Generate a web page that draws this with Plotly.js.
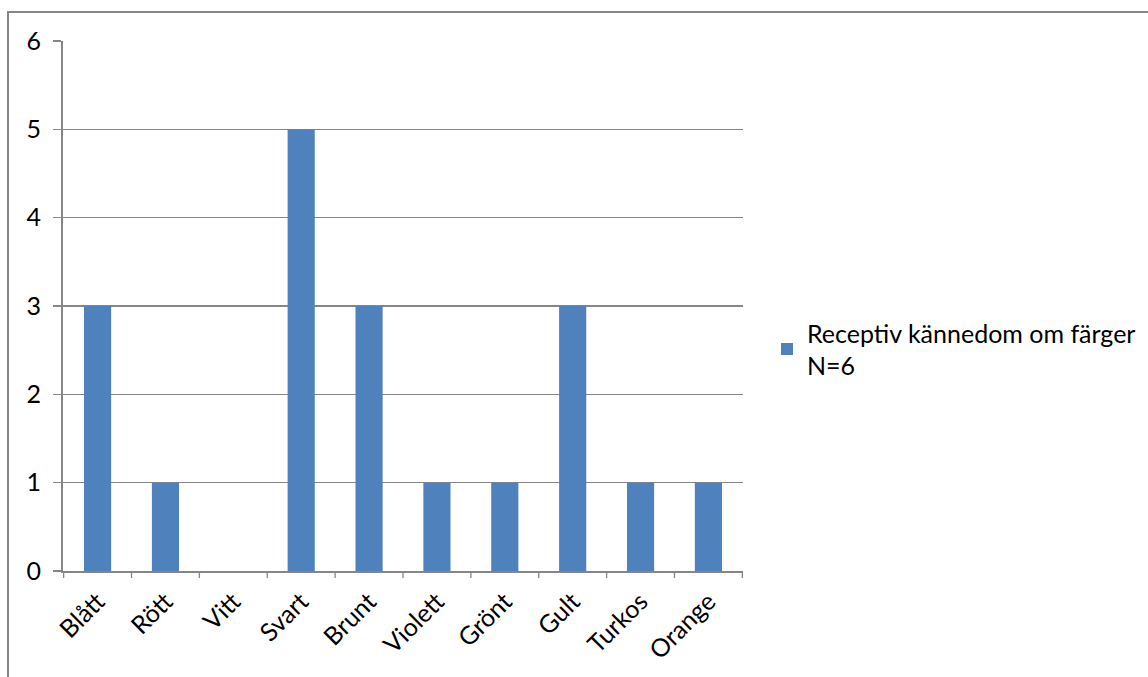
<!DOCTYPE html>
<html>
<head>
<meta charset="utf-8">
<script src="https://cdn.plot.ly/plotly-3.0.1.min.js"></script>
<style>html,body{margin:0;padding:0;background:#fff;}#chart{width:1148px;height:677px;}</style>
</head>
<body>
<div id="chart"></div>
<script>
const categories = ["Blått", "Rött", "Vitt", "Svart", "Brunt", "Violett", "Grönt", "Gult", "Turkos", "Orange"];
const values = [3, 1, 0, 5, 3, 1, 1, 3, 1, 1];
const seriesName = "Receptiv kännedom om färger<br>N=6";
const yTicks = [0, 1, 2, 3, 4, 5, 6];

const L = 63, R = 743, T = 41, B = 571, W = 1148, H = 677;
const pw = R - L, ph = B - T;
const px = v => (v - L) / pw;
const py = v => (B - v) / ph;

const font = "Lato, 'Open Sans', sans-serif";
const fs = 25;

Plotly.newPlot("chart", [{
  type: "bar",
  x: categories,
  y: values,
  name: seriesName,
  marker: {color: "#4F81BD"},
  showlegend: true,
  hoverinfo: "x+y"
}], {
  width: W, height: H,
  margin: {l: L, r: W - R, t: T, b: H - B, pad: 0, autoexpand: false},
  paper_bgcolor: "#fff",
  plot_bgcolor: "#fff",
  bargap: 0.6,
  font: {family: font, size: fs, color: "#000"},
  xaxis: {
    type: "category",
    tickangle: -45,
    showgrid: false,
    showline: true,
    linecolor: "#868686",
    linewidth: 2,
    ticks: "",
    ticklabelstandoff: 4,
    tickfont: {family: font, size: fs, color: "#000"},
    zeroline: false,
    fixedrange: true
  },
  yaxis: {
    range: [0, 6],
    tickvals: yTicks,
    ticktext: yTicks.map(String),
    showgrid: true,
    gridcolor: "#868686",
    gridwidth: 1.3,
    showline: true,
    linecolor: "#868686",
    linewidth: 2,
    ticks: "outside",
    ticklen: 8,
    tickcolor: "#868686",
    tickwidth: 1.3,
    ticklabelstandoff: 7,
    tickfont: {family: font, size: fs, color: "#000"},
    zeroline: false,
    fixedrange: true
  },
  legend: {
    x: px(767), y: py(310), xanchor: "left", yanchor: "top",
    font: {family: font, size: fs, color: "#000"},
    bgcolor: "rgba(0,0,0,0)"
  },
  shapes: [
    {type: "rect", xref: "paper", yref: "paper",
     x0: px(8), x1: px(1160), y0: py(690), y1: py(12),
     line: {color: "#868686", width: 2}, fillcolor: "rgba(0,0,0,0)", layer: "below"},
    ...categories.map((c, i) => ({type: "line", xref: "x", yref: "paper",
      x0: i - 0.5, x1: i - 0.5, y0: 0, y1: py(578), line: {color: "#868686", width: 1.3}})),
    {type: "line", xref: "x", yref: "paper",
      x0: categories.length - 0.5, x1: categories.length - 0.5, y0: 0, y1: py(578), line: {color: "#868686", width: 1.3}}
  ]
}, {displayModeBar: false, staticPlot: true});
</script>
</body>
</html>
